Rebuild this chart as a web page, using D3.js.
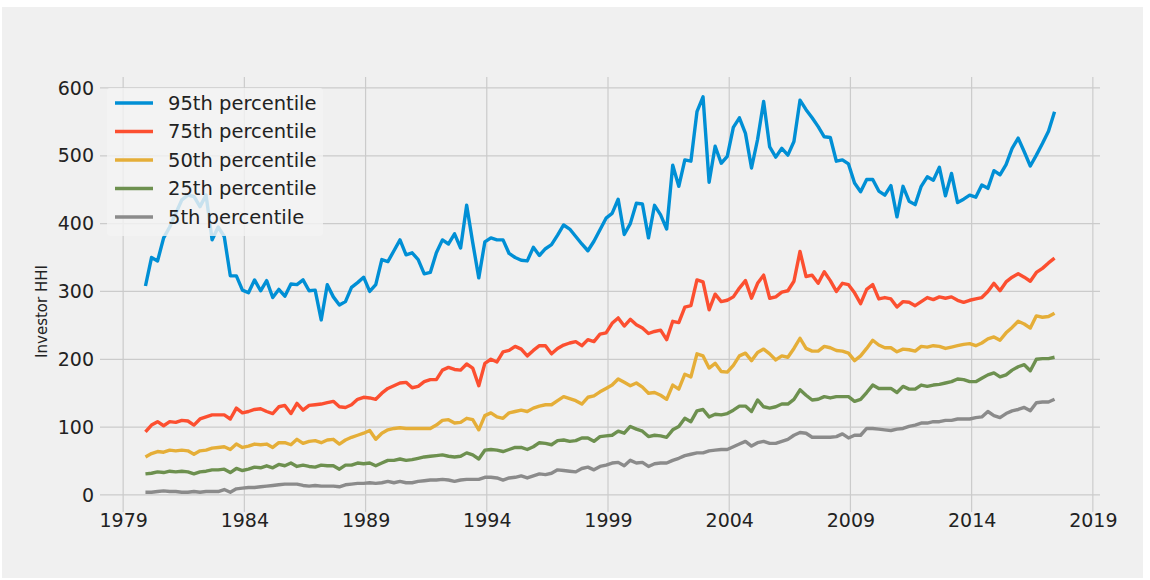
<!DOCTYPE html>
<html>
<head>
<meta charset="utf-8">
<script src="https://cdn.jsdelivr.net/npm/d3@7"></script>
<style>
  html, body { margin: 0; padding: 0; background: #ffffff; }
  svg { display: block; }
</style>
</head>
<body>
<div id="chart"></div>
<script>
// ---------------- data ----------------
const startYear = 1979.92;      // first quarterly observation
const stepYears = 0.25;         // quarterly
const seriesNames = ["95th percentile", "75th percentile", "50th percentile", "25th percentile", "5th percentile"];
const seriesColors = ["#008fd5", "#fc4f30", "#e5ae38", "#6d904f", "#8b8b8b"];

const p95 = [308,350,345,379,395,415,435,442,440,425,
  442,376,395,381,323,323,302,298,317,301,
  316,291,303,293,311,310,317,301,302,258,
  310,292,280,285,306,313,321,300,310,347,
  344,360,376,354,357,347,326,328,357,376,
  370,385,364,427,372,320,373,379,376,376,
  356,350,346,345,365,353,363,369,383,398,
  392,381,370,360,374,391,408,415,436,384,
  400,430,429,379,427,413,392,486,455,494,
  492,565,587,461,514,489,499,542,556,533,
  482,524,580,513,498,511,501,521,582,568,
  556,543,528,527,492,494,488,460,447,465,
  465,448,442,456,410,455,433,428,455,469,
  464,483,441,474,431,436,442,439,457,452,
  478,472,487,511,526,506,485,501,518,536,565];

const p75 = [93,103,108,102,108,107,110,109,103,112,
  115,118,118,118,112,128,121,123,126,127,
  123,120,130,132,120,135,125,132,133,134,
  136,138,130,129,133,141,144,143,141,150,
  157,161,165,166,158,160,167,170,170,184,
  188,185,184,193,187,161,194,200,196,211,
  213,219,215,205,213,220,220,208,216,221,
  224,226,220,229,226,237,239,253,261,249,
  259,251,246,238,241,243,229,256,254,277,
  279,317,314,273,296,285,287,292,305,316,
  290,312,324,290,292,299,301,315,359,322,
  324,312,329,316,300,312,310,298,282,303,
  310,289,291,289,277,285,284,279,285,291,
  288,292,290,292,287,284,287,289,291,300,
  312,301,314,321,326,321,315,328,334,342,349];

const p50 = [56,61,64,63,66,65,66,65,60,65,
  66,69,70,71,67,75,70,72,75,74,
  75,70,77,77,74,82,76,79,80,77,
  81,82,75,81,85,88,91,95,82,91,
  96,98,99,98,98,98,98,98,103,110,
  111,106,107,113,111,96,117,121,115,113,
  121,123,125,123,128,131,133,133,139,145,
  142,139,134,144,146,152,157,162,171,166,
  161,165,159,150,151,147,141,162,156,178,
  174,208,205,187,194,182,181,191,205,209,
  198,210,215,208,199,205,203,216,231,216,
  212,212,219,217,213,212,209,198,205,216,
  228,221,217,217,211,215,214,212,219,218,
  220,219,216,218,220,222,223,220,224,230,
  233,228,239,247,256,252,246,264,262,263,268];

const p25 = [31,32,34,33,35,34,35,34,31,34,
  35,37,37,38,33,39,36,38,41,40,
  43,40,45,43,47,42,44,42,41,44,
  43,43,38,44,44,47,46,47,43,47,
  51,51,53,51,52,54,56,57,58,59,
  57,56,57,62,59,53,66,67,66,64,
  67,70,70,67,71,77,76,74,80,81,
  79,80,84,84,79,86,87,88,94,91,
  101,97,94,86,88,87,85,96,101,113,
  108,124,126,115,119,118,120,125,131,131,
  123,140,130,128,130,134,134,141,155,147,
  140,141,145,143,145,145,145,138,141,151,
  162,157,157,157,151,160,156,156,162,160,
  162,163,165,167,171,170,167,167,172,177,
  180,174,177,184,189,192,183,200,201,201,203];

const p5 = [4,4,5,6,5,5,4,4,5,4,
  5,5,5,8,4,9,10,11,11,12,
  13,14,15,16,16,16,14,13,14,13,
  13,13,12,15,16,17,17,18,17,18,
  20,18,20,18,18,20,21,22,22,23,
  22,20,22,23,23,23,26,26,25,22,
  25,26,28,25,28,31,30,32,37,36,
  35,34,39,41,37,42,44,47,48,43,
  51,47,48,42,46,47,47,51,54,58,
  60,62,62,65,66,67,67,71,75,79,
  72,77,79,76,76,79,82,88,92,91,
  85,85,85,85,86,90,84,88,88,98,
  98,97,96,95,97,98,101,103,106,106,
  108,108,110,110,112,112,112,114,115,123,
  117,114,120,124,126,129,124,136,137,137,141];

const xTickYears = [1979, 1984, 1989, 1994, 1999, 2004, 2009, 2014, 2019];
const yTickValues = [0, 100, 200, 300, 400, 500, 600];
const yLabel = "Investor HHI";

// ---------------- layout ----------------
const W = 1150, H = 580;
const axL = 100, axR = 1100, axT = 77, axB = 512;
const FONT = "'DejaVu Sans', sans-serif";

const svg = d3.select("#chart").append("svg")
  .attr("width", W).attr("height", H);

svg.append("rect").attr("x", 0).attr("y", 0).attr("width", W).attr("height", H).attr("fill", "#ffffff");
svg.append("rect").attr("x", 2).attr("y", 7).attr("width", 1141).attr("height", 571).attr("fill", "#f0f0f0");

const allSeries = [p95, p75, p50, p25, p5];
const nPts = p95.length;
const lastYear = startYear + (nPts - 1) * stepYears;
const xPad = (lastYear - startYear) * 0.05;

const x = d3.scaleLinear().domain([startYear - xPad, lastYear + xPad]).range([axL, axR]);
const allVals = allSeries.flat();
const yMin = d3.min(allVals), yMax = d3.max(allVals);
const yPad = (yMax - yMin) * 0.05;
const y = d3.scaleLinear().domain([yMin - yPad, yMax + yPad]).range([axB, axT]);

// grid
const grid = svg.append("g");
grid.selectAll("line.h").data(yTickValues).join("line")
  .attr("x1", axL).attr("x2", axR)
  .attr("y1", d => y(d)).attr("y2", d => y(d))
  .attr("stroke", "#cbcbcb").attr("stroke-width", 1.2);
grid.selectAll("line.v").data(xTickYears).join("line")
  .attr("y1", axT).attr("y2", axB)
  .attr("x1", d => x(d)).attr("x2", d => x(d))
  .attr("stroke", "#cbcbcb").attr("stroke-width", 1.2);

// axes (labels only, no spines)
const xAxis = d3.axisBottom(x).tickValues(xTickYears).tickFormat(d3.format("d")).tickSize(0).tickPadding(12);
const gx = svg.append("g").attr("transform", `translate(0,${axB})`).call(xAxis);
gx.select(".domain").remove();
gx.selectAll("text").attr("font-family", FONT).attr("font-size", 19).attr("fill", "#222").attr("dy", "0.15em");

const yAxis = d3.axisLeft(y).tickValues(yTickValues).tickFormat(d3.format("d")).tickSize(0).tickPadding(6);
const gy = svg.append("g").attr("transform", `translate(${axL},0)`).call(yAxis);
gy.select(".domain").remove();
gy.selectAll("text").attr("font-family", FONT).attr("font-size", 19).attr("fill", "#222");

svg.append("text")
  .attr("transform", `translate(47,${(axT + axB) / 2 + 17}) rotate(-90)`)
  .attr("text-anchor", "middle")
  .attr("font-family", FONT).attr("font-size", 15).attr("fill", "#222")
  .text(yLabel);

// lines
const line = d3.line()
  .x((d, i) => x(startYear + i * stepYears))
  .y(d => y(d));

svg.append("g").selectAll("path").data(allSeries).join("path")
  .attr("d", d => line(d))
  .attr("fill", "none")
  .attr("stroke", (d, i) => seriesColors[i])
  .attr("stroke-width", 3.4)
  .attr("stroke-linejoin", "round")
  .attr("stroke-linecap", "butt");

// legend
const lg = svg.append("g");
lg.append("rect").attr("x", 107).attr("y", 88).attr("width", 216).attr("height", 148)
  .attr("rx", 3).attr("fill", "#f3f3f3").attr("fill-opacity", 0.82);
seriesNames.forEach((name, i) => {
  const cy = 103 + i * 28.5;
  lg.append("line").attr("x1", 115).attr("x2", 153).attr("y1", cy).attr("y2", cy)
    .attr("stroke", seriesColors[i]).attr("stroke-width", 3.4);
  lg.append("text").attr("x", 168).attr("y", cy).attr("dy", "0.35em")
    .attr("font-family", FONT).attr("font-size", 19.5).attr("fill", "#222").text(name);
});
</script>
</body>
</html>
